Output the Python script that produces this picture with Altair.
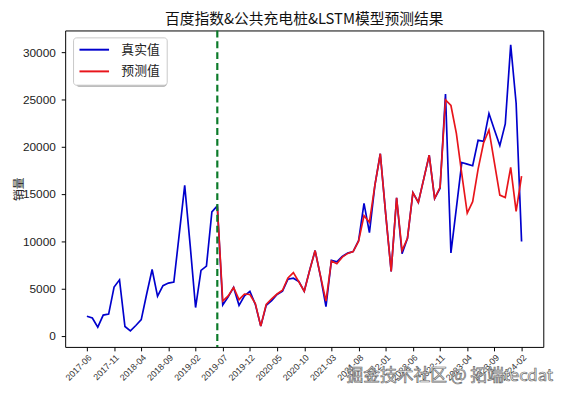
import altair as alt
import pandas as pd

# x tick labels (every 5 months, starting 2017-06)
tick_labels = ["2017-06", "2017-11", "2018-04", "2018-09", "2019-02", "2019-07",
               "2019-12", "2020-05", "2020-10", "2021-03", "2021-08", "2022-01",
               "2022-06", "2022-11", "2023-04", "2023-09", "2024-02"]

# actual values, monthly, index 0 = 2017-06
actual = [2040, 1860, 900, 2170, 2280, 5140, 5900, 960, 490, 1070,
          1690, 4400, 7000, 4170, 5280, 5560, 5660, 10760, 15900, 9600,
          2970, 6900, 7350, 13100, 13730, 3240, 4100, 5100, 3200, 4200,
          4690, 3300, 1000, 3200, 3700, 4350, 4690, 5970, 6070, 5730,
          4690, 6930, 9000, 6240, 3070, 7970, 7800, 8380, 8730, 8900,
          10040, 14000, 10900, 15900, 19250, 12830, 6800, 14590, 8660, 10300,
          15140, 14100, 16590, 19110, 14520, 15600, 25560, 8750, 13500, 18320,
          18150, 17980, 20670, 20560, 23500, 21800, 20110, 22400, 30770, 24600,
          9970]

# predicted values, starting at index 24 (2019-06)
pred_start = 24
predicted = [13700, 3650, 4200, 5100, 3800, 4400, 4350, 3400, 1000, 3300,
             3900, 4400, 4800, 6100, 6660, 5700, 4700, 6900, 9000, 6300,
             3650, 7900, 7600, 8300, 8700, 8900, 10000, 12700, 12000, 15900,
             19250, 12800, 6800, 14590, 9000, 10300, 15140, 14100, 16590, 19110,
             14520, 15700, 24940, 24360, 21400, 17100, 12970, 14180, 17630, 20390,
             21770, 18320, 14870, 14620, 17800, 13140, 16870]

series_names = ["真实值", "预测值"]
watermark = "掘金技术社区 @ 拓端tecdat"

rows = []
for i, v in enumerate(actual):
    rows.append({"idx": i, "value": v, "series": series_names[0]})
for k, v in enumerate(predicted):
    rows.append({"idx": pred_start + k, "value": v, "series": series_names[1]})
df = pd.DataFrame(rows)

split_df = pd.DataFrame({"idx": [pred_start]})
wm_df = pd.DataFrame({"t": [watermark]})

label_js = "[" + ",".join("'%s'" % t for t in tick_labels) + "]"

font = "Noto Sans CJK SC"
W, H = 485, 321

x_enc = alt.X("idx:Q",
              scale=alt.Scale(domain=[-4, 84], nice=False, zero=False),
              axis=alt.Axis(values=list(range(0, 81, 5)),
                            labelExpr=label_js + "[round(datum.value/5)]",
                            labelAngle=-45, labelAlign="right", labelBaseline="top",
                            labelFontSize=9, labelFont="Liberation Sans",
                            labelColor="#333", tickColor="#000", tickSize=4,
                            labelPadding=2, labelOverlap=False, labelFlush=False,
                            labelBound=False,
                            grid=False, domain=False, title=None))

y_enc = alt.Y("value:Q",
              scale=alt.Scale(domain=[-1200, 32300], nice=False, zero=False),
              axis=alt.Axis(values=list(range(0, 30001, 5000)), format="d",
                            labelFontSize=12, labelFont="Liberation Sans",
                            labelColor="#222", tickColor="#000", tickSize=4,
                            labelPadding=6, labelOverlap=False, grid=False, domain=False,
                            title="销量", titleFont=font, titleFontSize=12,
                            titleFontWeight="normal", titleColor="#222",
                            titleX=-47, titleY=H / 2, titleAlign="center",
                            titleBaseline="middle", titleAngle=270))

LX, LY = 8, 7
# soft shadow behind the legend box
shadow = alt.Chart(wm_df).mark_rect(color="#a8a8a8", cornerRadius=3).encode(
    x=alt.value(LX + 3), x2=alt.value(LX + 95), y=alt.value(LY + 3), y2=alt.value(LY + 50))

lines = alt.Chart(df).mark_line(strokeWidth=1.7).encode(
    x=x_enc,
    y=y_enc,
    color=alt.Color("series:N",
                    scale=alt.Scale(domain=series_names, range=["#0000cd", "#e8151b"]),
                    legend=alt.Legend(title=None, orient="none", legendX=LX, legendY=LY,
                                      symbolType="M-3,0H3", symbolSize=100,
                                      symbolStrokeWidth=2, symbolOffset=9,
                                      labelFont=font, labelFontSize=13,
                                      labelColor="#222", labelOffset=21,
                                      rowPadding=8, padding=6,
                                      strokeColor="#c8c8c8", fillColor="white",
                                      cornerRadius=3)),
)

rule = alt.Chart(split_df).mark_rule(color="#0a7a28", strokeWidth=2.2,
                                     strokeDash=[7, 4]).encode(x=x_enc)

wm = alt.Chart(wm_df).mark_text(font=font, fontSize=17, align="right",
                                baseline="middle", fill="#f4f4f4",
                                stroke="#6a6a6a", strokeWidth=0.7).encode(
    text="t:N", x=alt.value(495), y=alt.value(H + 30))

chart = alt.layer(shadow, lines, rule, wm).properties(
    width=W, height=H,
    title=alt.TitleParams("百度指数&公共充电桩&LSTM模型预测结果", font=font,
                          fontSize=15, fontWeight="normal", color="#111", offset=2),
    autosize=alt.AutoSizeParams(type="none"),
    padding={"left": 58, "top": 20, "right": 21, "bottom": 48},
).configure_view(stroke="#000", strokeWidth=1).configure_axis(labelOverlap=False)

chart.save("out.html", embed_options={"renderer": "svg", "actions": False})
